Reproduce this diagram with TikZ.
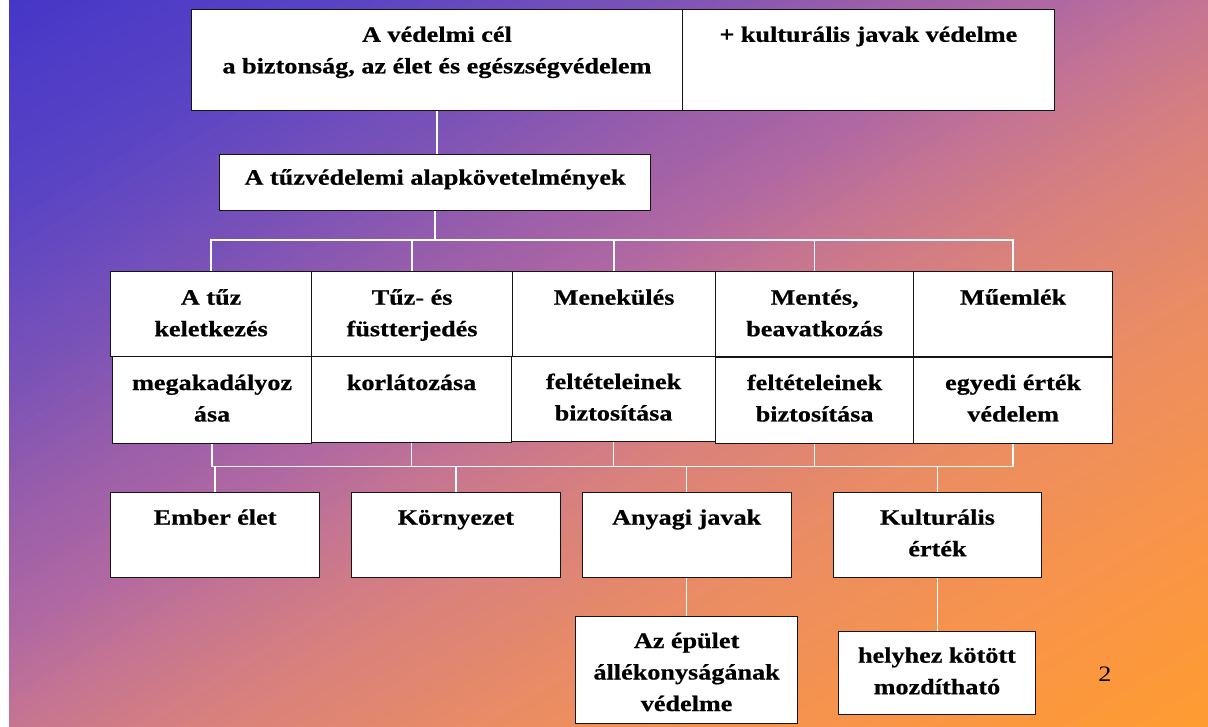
\documentclass[tikz,border=0pt]{standalone}
\usepackage{fontspec}
\setmainfont{Liberation Serif}[FakeStretch=1.19, BoldFeatures={FakeBold=0.6}]
\definecolor{g0}{HTML}{4636C8}
\definecolor{g1}{HTML}{5A44C4}
\definecolor{g2}{HTML}{7E54B6}
\definecolor{g3}{HTML}{9A5EAA}
\definecolor{g4}{HTML}{B068A2}
\definecolor{g5}{HTML}{C47492}
\definecolor{g6}{HTML}{D8807E}
\definecolor{g7}{HTML}{EA8C64}
\definecolor{g8}{HTML}{F8944A}
\definecolor{g9}{HTML}{FF9C30}
\pgfdeclarelayer{back}
\pgfdeclarelayer{mid}
\pgfsetlayers{back,mid,main}
\tikzset{
  box/.style={draw=black!92, line width=1.2pt, fill=white, inner sep=0pt, anchor=north west},
  txt/.style={inner sep=0pt, anchor=base, font=\fontsize{22}{31.5}\selectfont\bfseries},
  conn/.style={draw=white, line width=1.4pt},
}
\newcommand\T[1]{\begin{tabular}[t]{@{}c@{}}#1\end{tabular}}
\newcommand\bx[7]{%
  \node[box, minimum width={#4-#2}, minimum height={#5-#3}] (#1) at (#2,#3) {};
  \node[txt] (#1t) at ([yshift=-#6pt]#1.north) {\T{#7}};}
\newcommand\gseg[4]{%
  \foreach \k in {0,...,19}{%
    \pgfmathsetmacro\ta{#1+(#2-#1)*\k/20}%
    \pgfmathsetmacro\tb{#1+(#2-#1)*(\k+1.3)/20}%
    \pgfmathsetmacro\pc{100*(\k+0.5)/20}%
    \fill[#4!\pc!#3] ({2*\ta*1208},0) -- ({2*\tb*1208},0) -- (0,{2*\tb*727}) -- (0,{2*\ta*727}) -- cycle;}}
\begin{document}
\begin{tikzpicture}[x=1pt,y=-1pt]
\useasboundingbox (0,0) rectangle (1208,727);
\begin{pgfonlayer}{back}
  \begin{scope}
    \clip (0,0) rectangle (1208,727);
    \gseg{0.00}{0.15}{g0}{g1}
    \gseg{0.15}{0.28}{g1}{g2}
    \gseg{0.28}{0.36}{g2}{g3}
    \gseg{0.36}{0.44}{g3}{g4}
    \gseg{0.44}{0.50}{g4}{g5}
    \gseg{0.50}{0.58}{g5}{g6}
    \gseg{0.58}{0.70}{g6}{g7}
    \gseg{0.70}{0.85}{g7}{g8}
    \gseg{0.85}{1.00}{g8}{g9}
    \fill[white] (0,0) rectangle (8.5,727);
  \end{scope}
\end{pgfonlayer}

% top
\bx{tl}{190.7}{9.3}{682}{110}{32.5}{A védelmi cél\\a biztonság, az élet és egészségvédelem}
\bx{tr}{682}{9.3}{1053.5}{110}{32.5}{+ kulturális javak védelme}
\bx{ab}{219}{153.7}{650}{209.7}{31}{A tűzvédelemi alapkövetelmények}
% upper row
\bx{u1}{110}{270.7}{311}{356}{34}{A tűz\\keletkezés}
\bx{u2}{311}{270.7}{512}{356}{34}{Tűz- és\\füstterjedés}
\bx{u3}{512}{270.7}{715}{356}{34}{Menekülés}
\bx{u4}{715}{270.7}{913}{356}{34}{Mentés,\\beavatkozás}
\bx{u5}{913}{270.7}{1112}{356}{34}{Műemlék}
% lower row
\bx{l1}{112}{356}{311}{442.5}{34}{megakadályoz\\ása}
\bx{l2}{311}{356}{511}{442}{34}{korlátozása}
\bx{l3}{511}{356}{715}{441}{33}{feltételeinek\\biztosítása}
\bx{l4}{715}{357}{913}{443}{33}{feltételeinek\\biztosítása}
\bx{l5}{913}{357}{1112}{443}{33}{egyedi érték\\védelem}
% bottom
\bx{e1}{110}{491.7}{319}{577}{33}{Ember élet}
\bx{e2}{350.7}{491.7}{559.7}{577}{33}{Környezet}
\bx{e3}{581.5}{491.7}{790.6}{577}{33}{Anyagi javak}
\bx{e4}{832.7}{491.7}{1041}{577}{33}{Kulturális\\érték}
\bx{s1}{575}{616}{797}{723}{32}{Az épület\\állékonyságának\\védelme}
\bx{s2}{837.7}{630.7}{1035}{714}{32}{helyhez kötött\\mozdítható}

\node[anchor=base, inner sep=0pt, font=\fontsize{22}{31}\selectfont] (pg) at (1105,681) {2};

\begin{pgfonlayer}{mid}
  \coordinate (bus1) at (0,240);
  \coordinate (bus2) at (0,466.7);
  \draw[conn] (tl.south) -- (tl.south |- ab.north);
  \draw[conn] (ab.south) -- (ab.south |- bus1);
  \draw[conn] (u1.north) |- (bus1 -| u5.north) -- (u5.north);
  \foreach \n in {u2,u3,u4} \draw[conn] (\n.north) -- (\n.north |- bus1);
  \draw[conn] (l1.south) |- (bus2 -| l5.south) -- (l5.south);
  \foreach \n in {l2,l3,l4} \draw[conn] (\n.south) -- (\n.south |- bus2);
  \foreach \n in {e1,e2,e3,e4} \draw[conn] (\n.north) -- (\n.north |- bus2);
  \draw[conn] (e3.south) -- (e3.south |- s1.north);
  \draw[conn] (e4.south) -- (e4.south |- s2.north);
\end{pgfonlayer}
\end{tikzpicture}
\end{document}
